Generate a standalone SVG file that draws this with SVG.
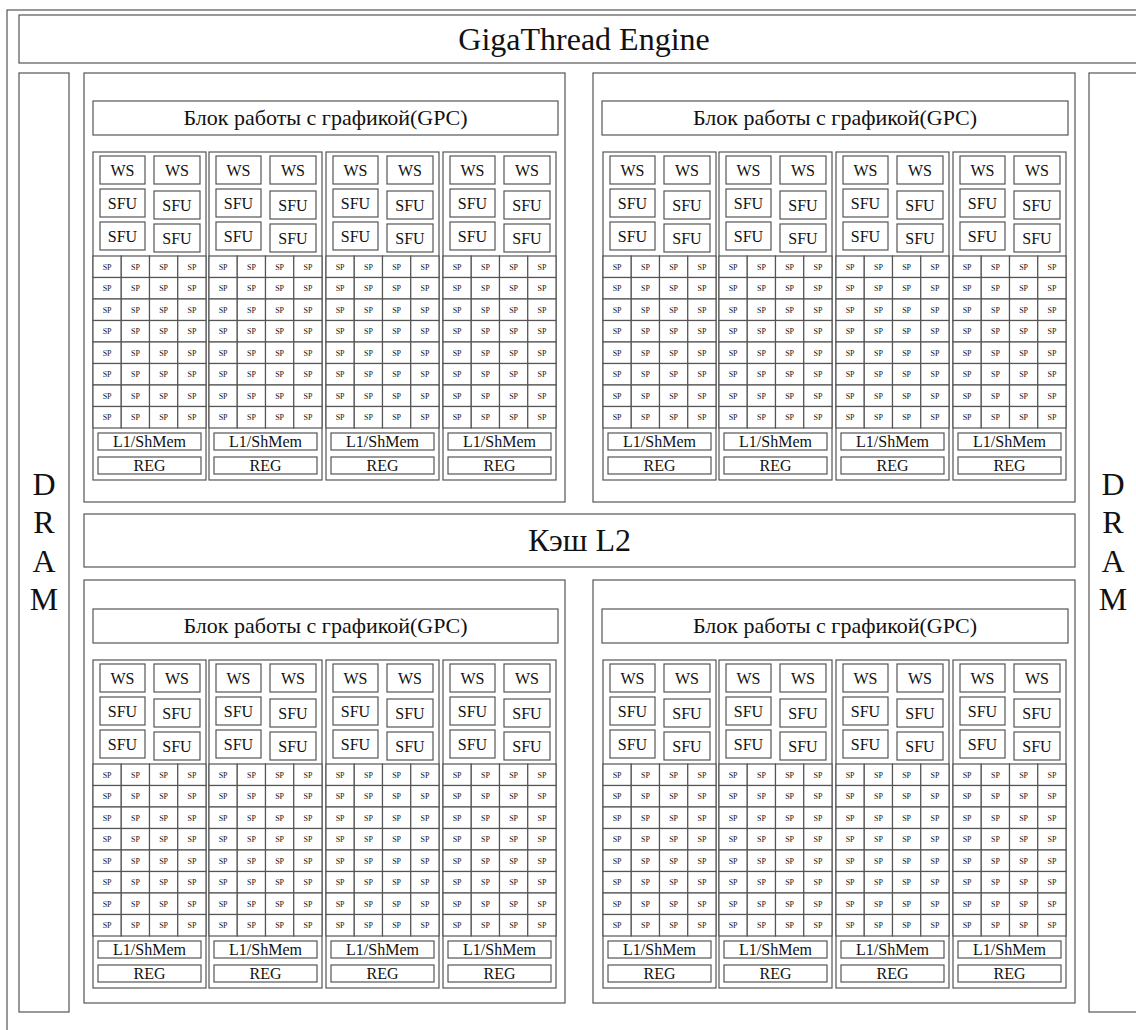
<svg xmlns="http://www.w3.org/2000/svg" width="1136" height="1030" viewBox="0 0 1136 1030" font-family="'Liberation Serif', 'Times New Roman', Times, 'DejaVu Serif', serif">
<style>
.box{fill:#fff;stroke:#555;stroke-width:1.2}
.t{font-family:'Liberation Serif','Times New Roman',Times,'DejaVu Serif',serif;text-anchor:middle;fill:#111}
.sp{font-size:8px}
.m{font-size:16px}
.l{font-size:16px}
.g{font-size:22px}
.big{font-size:32px}
.dr{font-size:32px}
</style>
<defs>
<g id="spRow">
<rect class="box" x="0" y="0" width="28.25" height="21.5"/>
<rect class="box" x="28.25" y="0" width="28.25" height="21.5"/>
<rect class="box" x="56.5" y="0" width="28.25" height="21.5"/>
<rect class="box" x="84.75" y="0" width="28.25" height="21.5"/>
<text class="t sp" x="14.1" y="13.5">SP</text>
<text class="t sp" x="42.4" y="13.5">SP</text>
<text class="t sp" x="70.6" y="13.5">SP</text>
<text class="t sp" x="98.9" y="13.5">SP</text>
</g>
<g id="spGrid">
<use href="#spRow" y="0"/>
<use href="#spRow" y="21.5"/>
<use href="#spRow" y="43"/>
<use href="#spRow" y="64.5"/>
<use href="#spRow" y="86"/>
<use href="#spRow" y="107.5"/>
<use href="#spRow" y="129"/>
<use href="#spRow" y="150.5"/>
</g>
<g id="sm">
<rect class="box" x="0" y="0" width="113" height="328"/>
<rect class="box" x="7" y="4" width="45" height="28"/>
<text class="t m" x="29.5" y="23.5">WS</text>
<rect class="box" x="61" y="4" width="46" height="28"/>
<text class="t m" x="84" y="23.5">WS</text>
<rect class="box" x="7" y="37" width="45" height="28"/>
<text class="t m" x="29.5" y="56.5">SFU</text>
<rect class="box" x="61" y="39" width="46" height="28"/>
<text class="t m" x="84" y="58.5">SFU</text>
<rect class="box" x="7" y="70" width="45" height="28"/>
<text class="t m" x="29.5" y="89.5">SFU</text>
<rect class="box" x="61" y="72" width="46" height="28"/>
<text class="t m" x="84" y="91.5">SFU</text>
<use href="#spGrid" y="104"/>
<rect class="box" x="5" y="281" width="103" height="17"/>
<text class="t l" x="56.5" y="295">L1/ShMem</text>
<rect class="box" x="5" y="305" width="103" height="17"/>
<text class="t l" x="56.5" y="319">REG</text>
</g>
</defs>

<g id="outer">
<rect class="box" x="7" y="10" width="1150" height="1040"/>
</g>
<g id="gigathread">
<rect class="box" x="19" y="15" width="1130" height="48"/>
<text class="t big" x="584" y="50">GigaThread Engine</text>
</g>
<g id="dram-left">
<rect class="box" x="19" y="73" width="50" height="939"/>
<text class="t dr" x="44" y="495">D</text>
<text class="t dr" x="44" y="533">R</text>
<text class="t dr" x="44" y="572">A</text>
<text class="t dr" x="44" y="610">M</text>
</g>
<g id="dram-right">
<rect class="box" x="1089" y="73" width="50" height="939"/>
<text class="t dr" x="1113" y="495">D</text>
<text class="t dr" x="1113" y="533">R</text>
<text class="t dr" x="1113" y="572">A</text>
<text class="t dr" x="1113" y="610">M</text>
</g>
<g id="l2">
<rect class="box" x="84" y="514" width="991" height="53"/>
<text class="t big" x="579.5" y="551">Кэш L2</text>
</g>

<g id="gpc-top-left">
<rect class="box" x="84" y="73" width="481" height="429"/>
<rect class="box" x="93" y="101" width="465" height="34"/>
<text class="t g" x="325.5" y="125">Блок работы с графикой(GPC)</text>
<use id="sm-tl-1" href="#sm" x="93" y="152"/>
<use id="sm-tl-2" href="#sm" x="209" y="152"/>
<use id="sm-tl-3" href="#sm" x="326" y="152"/>
<use id="sm-tl-4" href="#sm" x="443" y="152"/>
</g>
<g id="gpc-top-right">
<rect class="box" x="593" y="73" width="482" height="429"/>
<rect class="box" x="602" y="101" width="466" height="34"/>
<text class="t g" x="835" y="125">Блок работы с графикой(GPC)</text>
<use id="sm-tr-1" href="#sm" x="603" y="152"/>
<use id="sm-tr-2" href="#sm" x="719" y="152"/>
<use id="sm-tr-3" href="#sm" x="836" y="152"/>
<use id="sm-tr-4" href="#sm" x="953" y="152"/>
</g>
<g id="gpc-bottom-left">
<rect class="box" x="84" y="580" width="481" height="423"/>
<rect class="box" x="93" y="609" width="465" height="34"/>
<text class="t g" x="325.5" y="633">Блок работы с графикой(GPC)</text>
<use id="sm-bl-1" href="#sm" x="93" y="660"/>
<use id="sm-bl-2" href="#sm" x="209" y="660"/>
<use id="sm-bl-3" href="#sm" x="326" y="660"/>
<use id="sm-bl-4" href="#sm" x="443" y="660"/>
</g>
<g id="gpc-bottom-right">
<rect class="box" x="593" y="580" width="482" height="423"/>
<rect class="box" x="602" y="609" width="466" height="34"/>
<text class="t g" x="835" y="633">Блок работы с графикой(GPC)</text>
<use id="sm-br-1" href="#sm" x="603" y="660"/>
<use id="sm-br-2" href="#sm" x="719" y="660"/>
<use id="sm-br-3" href="#sm" x="836" y="660"/>
<use id="sm-br-4" href="#sm" x="953" y="660"/>
</g>
<g id="connectors"></g>
</svg>
